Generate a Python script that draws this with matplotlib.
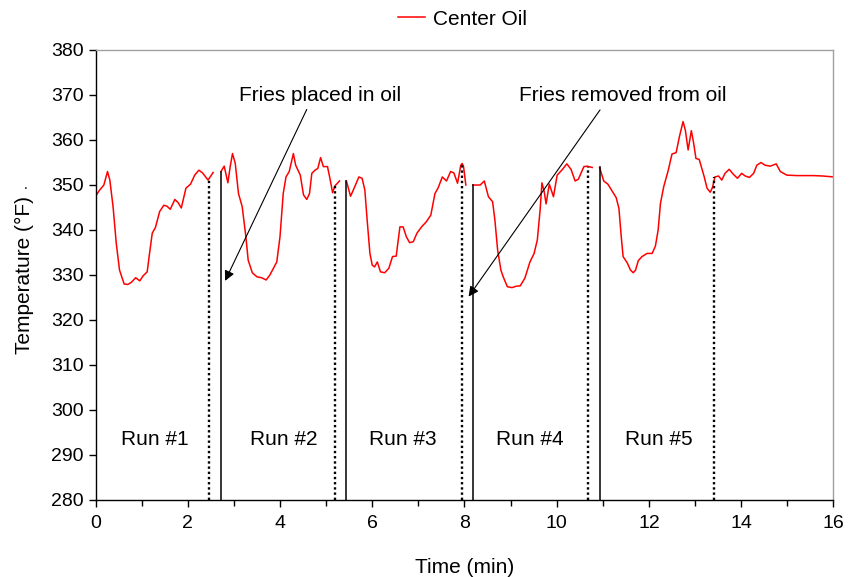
import numpy as np
import matplotlib
matplotlib.use("Agg")
import matplotlib.pyplot as plt

plt.rcParams['font.family'] = ['Liberation Sans', 'DejaVu Sans']

# ---- data -------------------------------------------------------------
seg1_t = [0.00, 0.09, 0.18, 0.26, 0.31, 0.38, 0.45, 0.52, 0.62, 0.70, 0.78, 0.87, 0.96, 1.03,
          1.12, 1.18, 1.23, 1.30, 1.39, 1.48, 1.55, 1.62, 1.72, 1.79, 1.86, 1.96, 2.06, 2.15,
          2.24, 2.32, 2.44, 2.55]
seg1_v = [347.4, 348.8, 349.9, 352.9, 351.0, 345.1, 336.9, 331.0, 327.9, 327.8, 328.3, 329.3,
          328.6, 329.7, 330.6, 335.4, 339.2, 340.5, 344.0, 345.4, 345.2, 344.5, 346.7, 346.0,
          344.8, 349.2, 350.1, 352.1, 353.2, 352.6, 351.0, 352.7]

seg2_t = [2.72, 2.79, 2.87, 2.92, 2.97, 3.03, 3.10, 3.18, 3.26, 3.31, 3.40, 3.50, 3.60, 3.70,
          3.78, 3.93, 4.00, 4.07, 4.13, 4.20, 4.24, 4.29, 4.34, 4.44, 4.51, 4.58, 4.64, 4.69,
          4.76, 4.82, 4.88, 4.94, 5.03, 5.09, 5.14, 5.19, 5.29]
seg2_v = [352.9, 354.1, 350.4, 354.0, 356.9, 354.7, 348.0, 345.1, 338.4, 333.2, 330.4, 329.5,
          329.3, 328.8, 329.9, 332.8, 338.4, 348.0, 351.7, 352.9, 354.7, 356.9, 354.3, 352.1,
          347.7, 346.7, 348.0, 352.5, 353.2, 353.6, 356.0, 354.0, 354.0, 351.0, 348.2, 349.7,
          350.8]

seg3_t = [5.44, 5.53, 5.62, 5.71, 5.78, 5.84, 5.89, 5.95, 6.00, 6.05, 6.11, 6.18, 6.27, 6.36,
          6.44, 6.52, 6.60, 6.67, 6.74, 6.81, 6.89, 6.97, 7.07, 7.17, 7.27, 7.36, 7.43, 7.52,
          7.61, 7.70, 7.77, 7.85, 7.92, 7.95, 7.98, 8.03]
seg3_v = [350.8, 347.4, 349.5, 351.7, 351.4, 348.8, 342.1, 334.7, 332.1, 331.7, 332.8, 330.6,
          330.4, 331.4, 334.0, 334.1, 340.6, 340.6, 338.4, 337.1, 337.3, 339.2, 340.6, 341.7,
          343.2, 348.0, 349.3, 351.7, 350.8, 352.9, 352.6, 350.3, 354.3, 354.7, 354.0, 349.9]

seg4_t = [8.18, 8.34, 8.43, 8.52, 8.61, 8.66, 8.72, 8.79, 8.84, 8.93, 9.03, 9.12, 9.21, 9.31,
          9.42, 9.51, 9.58, 9.64, 9.68, 9.73, 9.77, 9.84, 9.93, 10.01, 10.11, 10.22, 10.31,
          10.40, 10.47, 10.59, 10.66, 10.77]
seg4_v = [349.9, 349.9, 350.8, 347.3, 346.2, 342.1, 335.4, 331.0, 329.5, 327.3, 327.1, 327.4,
          327.5, 329.2, 332.8, 334.7, 337.7, 344.3, 350.4, 348.4, 345.7, 350.1, 347.3, 352.1,
          353.2, 354.6, 353.4, 350.8, 351.2, 354.0, 354.1, 353.8]

seg5_t = [10.93, 11.02, 11.11, 11.20, 11.29, 11.35, 11.40, 11.44, 11.53, 11.60, 11.66, 11.71,
          11.77, 11.85, 11.96, 12.07, 12.14, 12.20, 12.25, 12.32, 12.42, 12.50, 12.59, 12.66,
          12.74, 12.79, 12.85, 12.92, 12.97, 13.02, 13.09, 13.20, 13.26, 13.33, 13.38, 13.43,
          13.51, 13.58, 13.65, 13.74, 13.83, 13.92, 14.01, 14.09, 14.18, 14.27, 14.34, 14.43,
          14.52, 14.63, 14.76, 14.85, 14.99, 15.21, 15.57, 15.78, 16.00]
seg5_v = [353.8, 350.8, 350.1, 348.6, 347.1, 344.7, 338.4, 334.0, 332.6, 331.0, 330.4, 331.0,
          333.1, 334.0, 334.7, 334.7, 336.3, 339.9, 345.8, 349.5, 353.2, 356.8, 357.1, 360.6,
          364.0, 362.1, 357.7, 362.0, 359.2, 355.8, 355.6, 351.7, 349.2, 348.3, 349.4, 351.7,
          351.9, 351.0, 352.5, 353.4, 352.3, 351.4, 352.5, 351.9, 351.6, 352.5, 354.3, 354.9,
          354.3, 354.1, 354.6, 352.9, 352.1, 352.0, 352.0, 351.9, 351.7]

segments = [(seg1_t, seg1_v), (seg2_t, seg2_v), (seg3_t, seg3_v), (seg4_t, seg4_v), (seg5_t, seg5_v)]

# fries removed (dotted) and fries placed (solid) marker lines
removed_t = [2.46, 5.19, 7.95, 10.67, 13.42]
removed_v = [351.0, 349.7, 354.9, 354.0, 351.7]
placed_t = [2.72, 5.44, 8.18, 10.93]
placed_v = [352.9, 350.8, 349.9, 353.8]

run_labels = ["Run #1", "Run #2", "Run #3", "Run #4", "Run #5"]
run_label_t = [1.28, 4.08, 6.66, 9.42, 12.22]
run_label_v = 293.4

# annotations: text, text position, arrow start, arrow tip
notes = ["Fries placed in oil", "Fries removed from oil"]
note_xy = [(4.87, 369.7), (11.44, 369.7)]
arrow_from = [(4.58, 366.7), (10.94, 366.6)]
arrow_to = [(2.81, 328.6), (8.09, 325.1)]

x_ticks = [0, 2, 4, 6, 8, 10, 12, 14, 16]
y_ticks = [280, 290, 300, 310, 320, 330, 340, 350, 360, 370, 380]

FS = 15

# ---- plot -------------------------------------------------------------
fig = plt.figure(figsize=(8.53, 5.77), dpi=100)
ax = fig.add_axes([0.112, 0.1343, 0.865, 0.7797])

t_all, v_all = [], []
for t, v in segments:
    t_all += list(t) + [np.nan]
    v_all += list(v) + [np.nan]
line, = ax.plot(t_all, v_all, color='#ff0000', lw=1.1, label='Center Oil')

for t, v in zip(removed_t, removed_v):
    ax.plot([t, t], [280, v], color='black', lw=1.7, linestyle=(0, (1, 1.2)), solid_capstyle='butt')
for t, v in zip(placed_t, placed_v):
    ax.plot([t, t], [280, v], color='black', lw=1.1)

for lab, t in zip(run_labels, run_label_t):
    ax.text(t, run_label_v, lab, ha='center', va='center', fontsize=FS)

for txt, pos, a0, a1 in zip(notes, note_xy, arrow_from, arrow_to):
    ax.text(pos[0], pos[1], txt, ha='center', va='center', fontsize=FS)
    ax.annotate("", xy=a1, xytext=a0,
                arrowprops=dict(arrowstyle='-|>', color='black', lw=0.8, mutation_scale=15,
                                shrinkA=0, shrinkB=0))

ax.set_xlim(0, 16)
ax.set_ylim(280, 380)
ax.set_xticks(x_ticks)
ax.set_xticks(np.arange(1, 16, 2), minor=True)
ax.set_yticks(y_ticks)
ax.tick_params(axis='both', which='major', direction='out', length=5, width=1, labelsize=14,
               color='black')
ax.tick_params(axis='x', which='minor', direction='out', length=4, width=1)
ax.tick_params(axis='x', pad=6)

for s in ['left', 'bottom']:
    ax.spines[s].set_color('black')
    ax.spines[s].set_linewidth(1.0)
for s in ['top', 'right']:
    ax.spines[s].set_color('#a0a0a0')
    ax.spines[s].set_linewidth(1.0)

ax.set_xlabel("Time (min)", fontsize=FS, labelpad=19)
ax.set_ylabel("Temperature (°F)", fontsize=FS, labelpad=12)
fig.text(26 / 853, 1 - 185 / 577, ".", fontsize=10, ha='center', va='center')

fig.legend(handles=[line], loc='center', bbox_to_anchor=(0.542, 0.967), frameon=False,
           fontsize=FS, handlelength=1.3, handletextpad=0.4)

fig.savefig("out.png", dpi=100)
